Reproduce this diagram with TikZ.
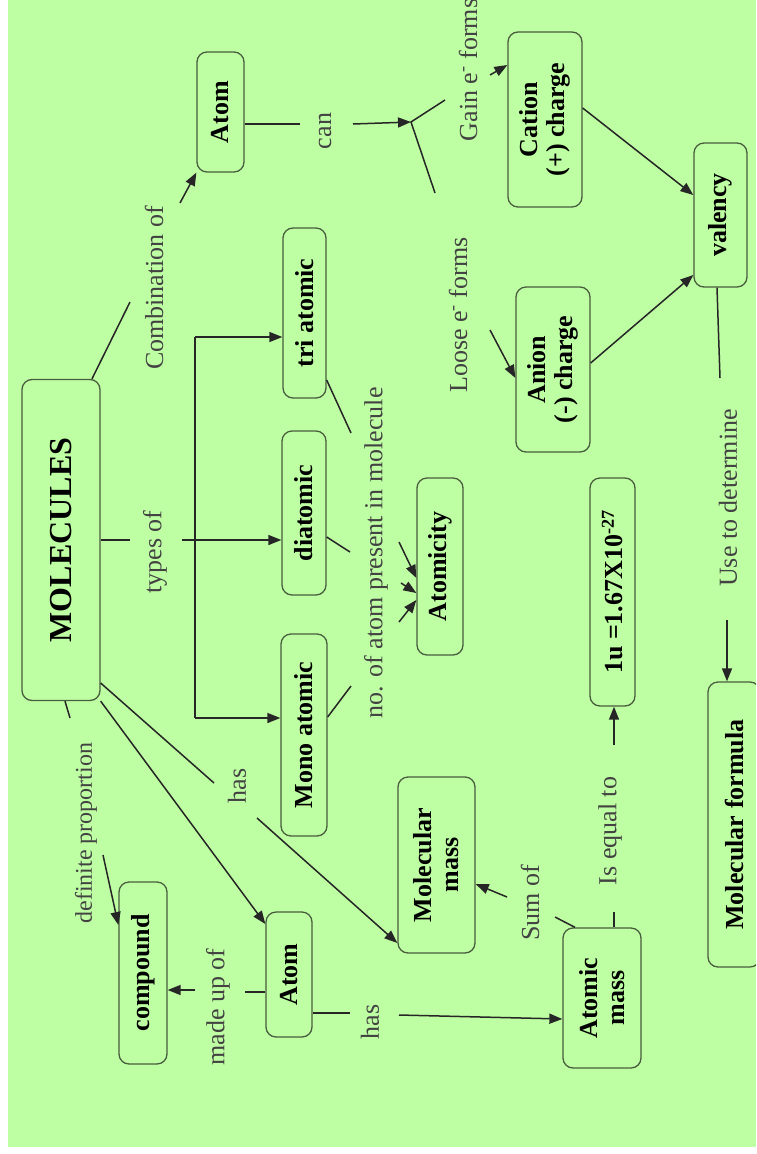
\documentclass[tikz,border=0pt]{standalone}
\usepackage{fontspec}
\setmainfont{Liberation Serif}
\usetikzlibrary{arrows.meta}
\definecolor{bggreen}{RGB}{191,255,163}
\definecolor{boxline}{RGB}{72,92,62}
\definecolor{labelgray}{RGB}{66,66,66}

\begin{document}
\begin{tikzpicture}[x=1pt,y=-1pt,
  concept/.style={draw=boxline, line width=1.3pt, rounded corners=10pt, rotate=90,
    align=center, inner sep=0pt, font=\fontsize{26}{27}\selectfont\bfseries},
  linktext/.style={rotate=90, inner sep=0pt, text=labelgray,
    font=\fontsize{26}{28}\selectfont},
  link/.style={line width=1.5pt, draw=black!85},
  arr/.style={link, -{Triangle[length=13pt,width=10pt]}}]
  \useasboundingbox (0,0) rectangle (756,1154);
  \clip (0,0) rectangle (756,1154);
  \fill[white] (0,0) rectangle (756,1154);
  \fill[bggreen] (8,0) rectangle (756,1147);

  \node[concept, minimum width=321pt, minimum height=78pt,
    font=\fontsize{32}{34}\selectfont\bfseries] (mol) at (61,540) {MOLECULES};
  \node[concept, minimum width=120pt, minimum height=47pt] (atomT) at (220.5,112) {Atom};
  \node[concept, minimum width=170pt, minimum height=43pt] (tri) at (304.5,313) {tri atomic};
  \node[concept, minimum width=164pt, minimum height=44pt] (di) at (304,513) {diatomic};
  \node[concept, minimum width=202pt, minimum height=46pt] (mono) at (304,735) {Mono atomic};
  \node[concept, minimum width=177pt, minimum height=46pt] (atomicity) at (440,566.5) {Atomicity};
  \node[concept, minimum width=175pt, minimum height=74pt] (cation) at (545,119.5) {Cation\\(+) charge};
  \node[concept, minimum width=165pt, minimum height=74pt] (anion) at (553,369.5) {Anion\\(-) charge};
  \node[concept, minimum width=144pt, minimum height=53pt] (valency) at (720.5,215) {valency};
  \node[concept, minimum width=228pt, minimum height=45pt] (oneu) at (612.5,592) {1u =1.67X10\textsuperscript{-27}};
  \node[concept, minimum width=285pt, minimum height=52pt] (molform) at (734,824.5) {Molecular formula};
  \node[concept, minimum width=176pt, minimum height=77pt] (molmass) at (436.5,865) {Molecular\\mass};
  \node[concept, minimum width=140pt, minimum height=78pt] (atmass) at (602,998) {Atomic\\mass};
  \node[concept, minimum width=125pt, minimum height=46pt] (atomB) at (289,974.5) {Atom};
  \node[concept, minimum width=182pt, minimum height=48pt] (compound) at (143,973) {compound};

  \node[linktext] (comb) at (154,288) {Combination of};
  \node[linktext] (can) at (325,131) {can};
  \node[linktext] (types) at (155,552) {types of};
  \node[linktext] (gain) at (468,70) {Gain e\textsuperscript{-} forms};
  \node[linktext] (loose) at (458,315) {Loose e\textsuperscript{-} forms};
  \node[linktext] (noatom) at (376,553) {no. of atom present in molecule};
  \node[linktext] (hasA) at (237,786) {has};
  \node[linktext, font=\fontsize{24}{26}\selectfont] (defprop) at (86,833) {definite proportion};
  \node[linktext] (madeup) at (218,1007) {made up of};
  \node[linktext] (hasB) at (370,1022) {has};
  \node[linktext] (sumof) at (530,903) {Sum of};
  \node[linktext] (isequal) at (610,831) {Is equal to};
  \node[linktext] (usedet) at (728,498) {Use to determine};

  \coordinate (combA) at (130,302);
  \coordinate (combB) at (180,203);
  \coordinate (canA) at (300,124);
  \coordinate (canB) at (353,124);
  \coordinate (split) at (411,122);
  \coordinate (gainA) at (445,100);
  \coordinate (gainB) at (490,75);
  \coordinate (looseA) at (435,193);
  \coordinate (looseB) at (490,330);
  \coordinate (useA) at (720,378);
  \coordinate (useB) at (727,620);
  \coordinate (typesA) at (130,540);
  \coordinate (typesB) at (182,540);
  \coordinate (treeT) at (195,337);
  \coordinate (treeB) at (195,718);
  \coordinate (triN) at (351,433);
  \coordinate (diN) at (350,552);
  \coordinate (monoN) at (351,686);
  \coordinate (noA) at (399,542);
  \coordinate (noB) at (401,583);
  \coordinate (noC) at (399,622);
  \coordinate (defA) at (70,718);
  \coordinate (defB) at (103,855);
  \coordinate (hasAa) at (214,783);
  \coordinate (hasAb) at (257,818);
  \coordinate (madeA) at (245,992);
  \coordinate (madeB) at (195,990);
  \coordinate (hasBa) at (350,1013);
  \coordinate (hasBb) at (399,1015);
  \coordinate (sumA) at (555,917);
  \coordinate (sumB) at (507,897);
  \coordinate (eqA) at (614,912);
  \coordinate (eqB) at (614,745);

  \draw[link] (mol.east -| 92,0) -- (combA);
  \draw[arr] (combB) -- (atomT.north west);
  \draw[link] (atomT.south |- canA) -- (canA);
  \draw[arr] (canB) -- (split);
  \draw[link] (gainA) -- (split) -- (looseA);
  \draw[arr] (gainB) -- (cation.north |- 0,65);
  \draw[arr] (looseB) -- (anion.north |- 0,378);
  \draw[arr] (cation.south |- 0,108) -- (valency.north |- 0,195);
  \draw[arr] (anion.south |- 0,363) -- (valency.north |- 0,275);
  \draw[link] (valency.west -| 717,0) -- (useA);
  \draw[arr] (useB) -- (molform.east -| useB);

  \draw[link] (mol.south |- typesA) -- (typesA);
  \draw[arr] (typesB) -- (di.north |- typesB);
  \draw[link] (treeT) -- (treeB);
  \draw[arr] (treeT) -- (tri.north |- treeT);
  \draw[arr] (treeB) -- (mono.north |- treeB);
  \draw[link] (tri.south |- 0,380) -- (triN);
  \draw[link] (di.south |- 0,537) -- (diN);
  \draw[link] (mono.south |- 0,717) -- (monoN);
  \draw[arr] (noA) -- (atomicity.north |- 0,578);
  \draw[arr] (noB) -- (atomicity.north |- 0,593);
  \draw[arr] (noC) -- (atomicity.north |- 0,600);

  \draw[link] (mol.west -| 65,0) -- (defA);
  \draw[arr] (defB) -- (compound.north |- 0,925);
  \draw[link] (mol.south |- 0,683) -- (hasAa);
  \draw[arr] (hasAb) -- (molmass.north |- 0,943);
  \draw[arr] (mol.south west) -- (atomB.north |- 0,924);
  \draw[link] (atomB.north |- madeA) -- (madeA);
  \draw[arr] (madeB) -- (compound.south |- madeB);
  \draw[link] (atomB.south |- hasBa) -- (hasBa);
  \draw[arr] (hasBb) -- (atmass.north |- 0,1019);
  \draw[link] (atmass.east -| 575,0) -- (sumA);
  \draw[arr] (sumB) -- (molmass.south |- 0,884);
  \draw[link] (atmass.east -| eqA) -- (eqA);
  \draw[arr] (eqB) -- (oneu.west -| eqB);
\end{tikzpicture}
\end{document}
